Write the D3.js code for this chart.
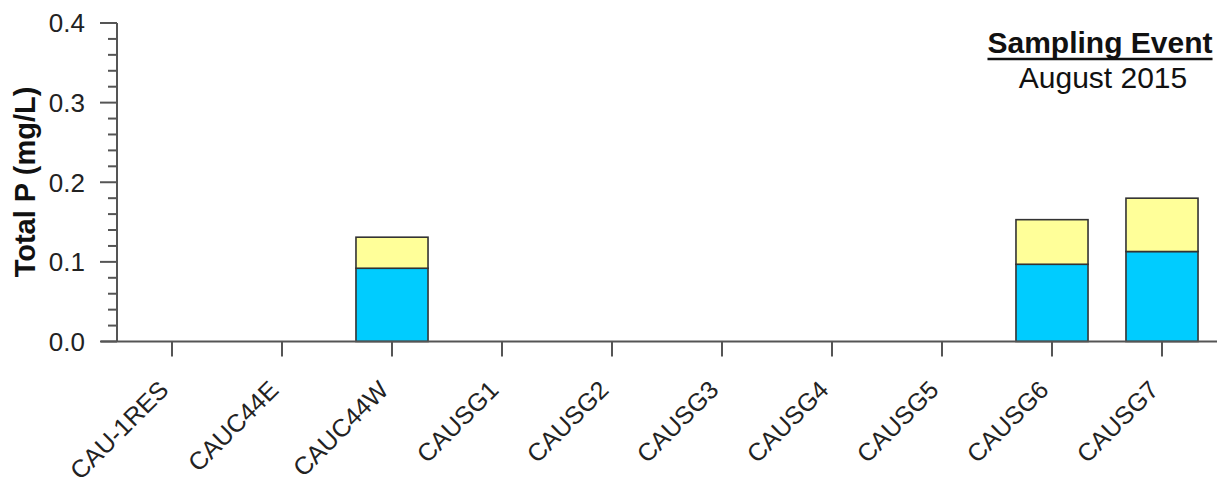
<!DOCTYPE html>
<html><head><meta charset="utf-8">
<script src="https://cdn.jsdelivr.net/npm/d3@7"></script>
<style>body{margin:0;background:#fff}svg{display:block;font-family:"Liberation Sans",Arial,sans-serif}</style>
</head><body><svg id="c" width="1225" height="484"></svg>
<script>
const categories = ["CAU-1RES","CAUC44E","CAUC44W","CAUSG1","CAUSG2","CAUSG3","CAUSG4","CAUSG5","CAUSG6","CAUSG7"];
const seriesBottom = [0,0,0.092,0,0,0,0,0,0.097,0.113];
const seriesTop    = [0,0,0.039,0,0,0,0,0,0.056,0.067];
const yTicks = [0,0.1,0.2,0.3,0.4];
const seriesColors = ["#00CCFF","#FFFF99"];

const svg = d3.select("#c");
const L = 117, R = 1217, T = 23, B = 341.5;
const x = d3.scaleBand().domain(categories).range([L,R]).paddingInner(0.345).paddingOuter(0.1725);
const y = d3.scaleLinear().domain([0,0.4]).range([B,T]);
const axisColor = "#555";

// stacked bars
const data = categories.map((c,i)=>({cat:c, a:seriesBottom[i], b:seriesTop[i]}));
const stack = d3.stack().keys(["a","b"])(data);
stack.forEach((layer,li)=>{
  svg.append("g").selectAll("rect").data(layer.filter(d=>d[1]-d[0]>0)).join("rect")
    .attr("x",d=>x(d.data.cat)).attr("width",x.bandwidth())
    .attr("y",d=>y(d[1])).attr("height",d=>y(d[0])-y(d[1]))
    .attr("fill",seriesColors[li]).attr("stroke","#333").attr("stroke-width",1.6);
});

// y axis
const gy = svg.append("g").attr("transform",`translate(${L},0)`);
gy.append("line").attr("x1",0).attr("x2",0).attr("y1",y(0.4)).attr("y2",y(0)).attr("stroke",axisColor).attr("stroke-width",2);
const minor = d3.range(0,0.4001,0.02);
gy.selectAll("line.mn").data(minor).join("line").attr("class","mn")
  .attr("x1",d=> (Math.round(d*100)%10===0)? -17 : -9).attr("x2",0)
  .attr("y1",d=>y(d)).attr("y2",d=>y(d)).attr("stroke",axisColor).attr("stroke-width",2);
gy.selectAll("text").data(yTicks).join("text")
  .attr("x",-32).attr("y",d=>y(d)).attr("dy","0.36em").attr("text-anchor","end")
  .attr("font-size",26).attr("fill","#222").text(d=>d3.format(".1f")(d));

// x axis
const gx = svg.append("g");
gx.append("line").attr("x1",L-16).attr("x2",R).attr("y1",B).attr("y2",B).attr("stroke",axisColor).attr("stroke-width",2);
gx.selectAll("line.t").data(categories).join("line").attr("class","t")
  .attr("x1",d=>x(d)+x.bandwidth()/2).attr("x2",d=>x(d)+x.bandwidth()/2)
  .attr("y1",B).attr("y2",B+15).attr("stroke",axisColor).attr("stroke-width",2);
gx.selectAll("text").data(categories).join("text")
  .attr("transform",d=>`translate(${x(d)+x.bandwidth()/2-2},${B+50}) rotate(-45)`)
  .attr("text-anchor","end").attr("font-size",25).attr("fill","#222").text(d=>d);

// y label
svg.append("text").attr("transform",`translate(35,182) rotate(-90)`)
  .attr("text-anchor","middle").attr("font-size",29).attr("font-weight","bold").attr("fill","#111").text("Total P (mg/L)");

// legend text
const t1 = svg.append("text").attr("x",1100).attr("y",53).attr("text-anchor","middle").attr("font-size",30)
  .attr("font-weight","bold").attr("fill","#111").text("Sampling Event");
const bb = t1.node().getBBox();
svg.append("line").attr("x1",bb.x).attr("x2",bb.x+bb.width).attr("y1",59).attr("y2",59)
  .attr("stroke","#111").attr("stroke-width",2.6);
svg.append("text").attr("x",1103).attr("y",88).attr("text-anchor","middle").attr("font-size",30)
  .attr("fill","#111").text("August 2015");
</script></body></html>
